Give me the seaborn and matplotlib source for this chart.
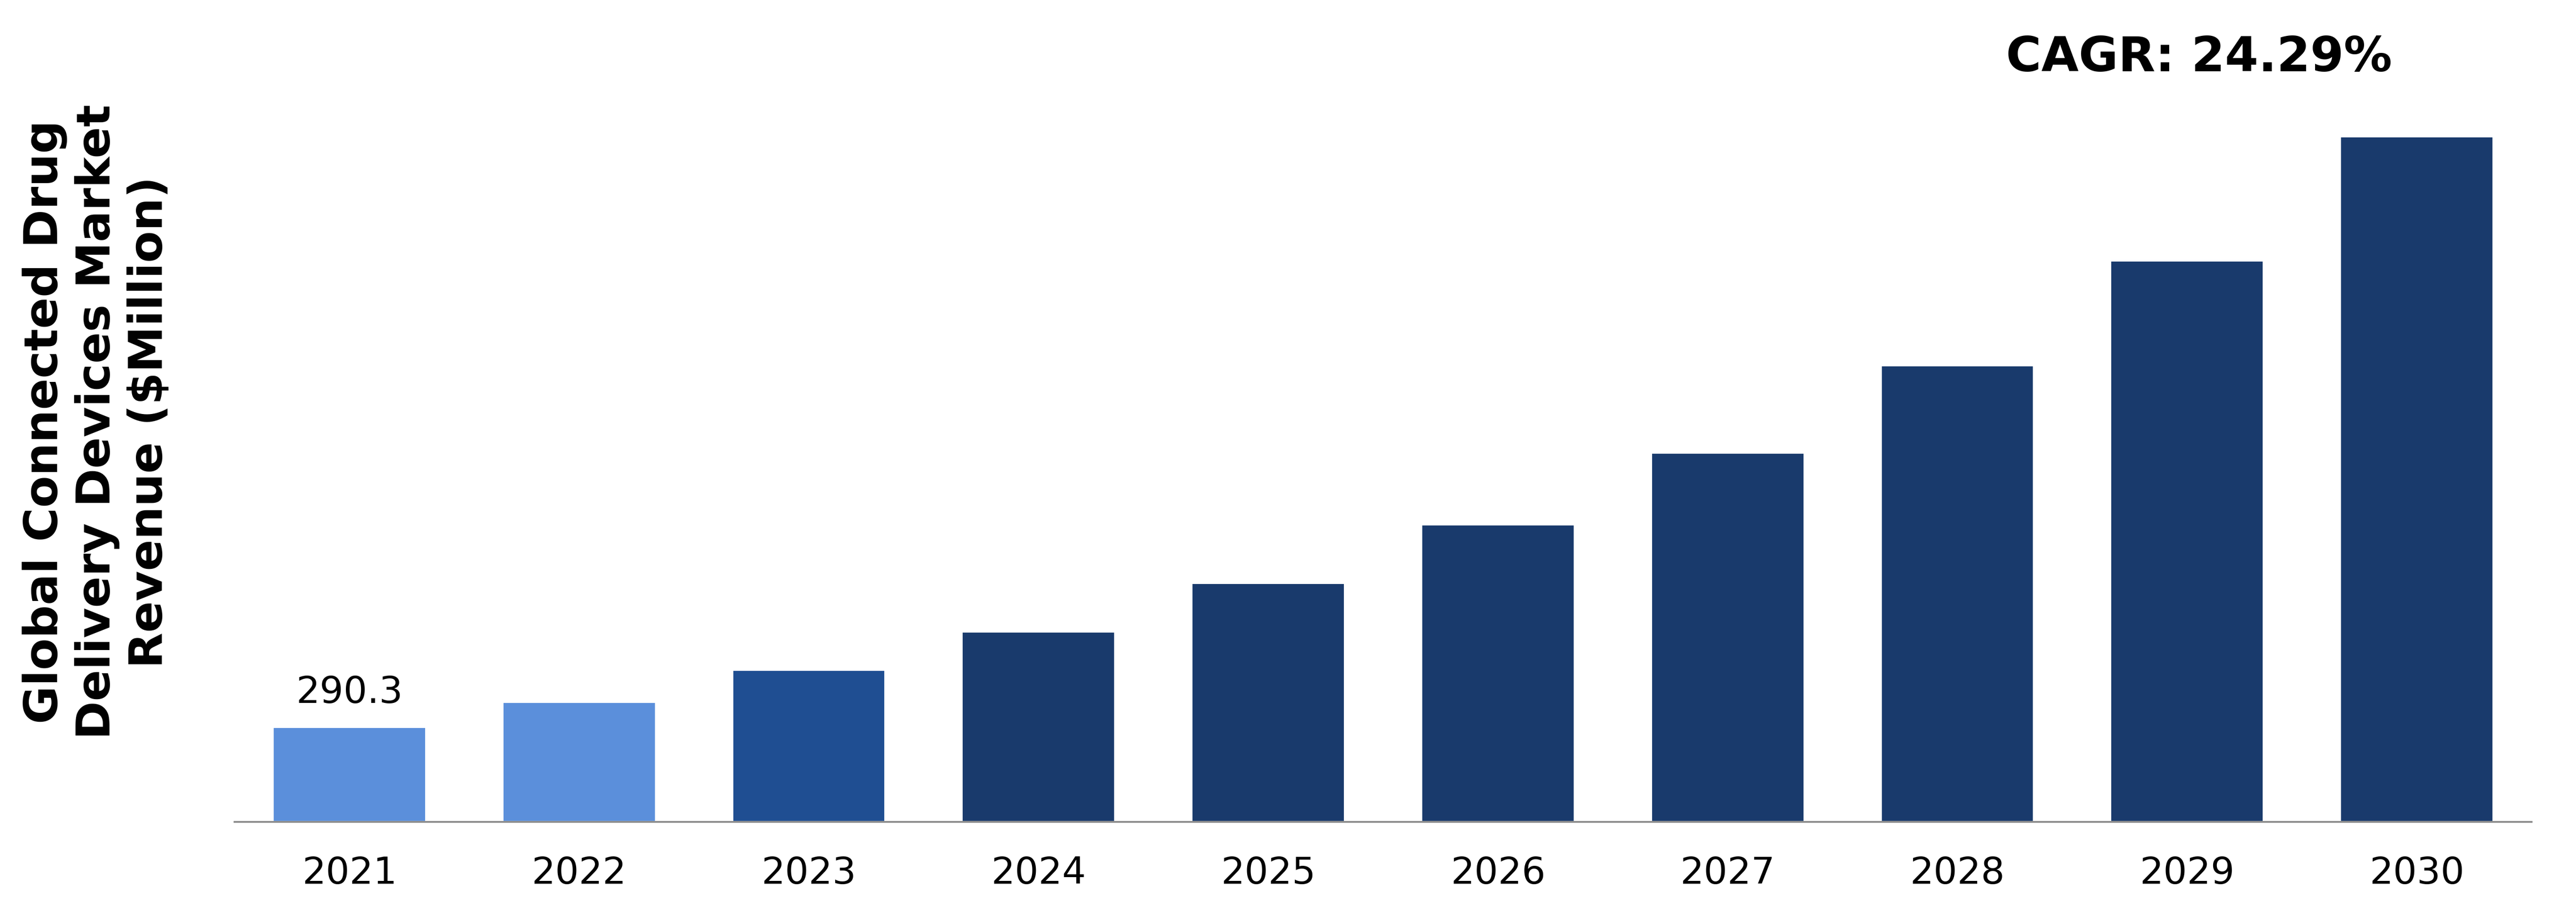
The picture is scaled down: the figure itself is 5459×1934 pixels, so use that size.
import matplotlib
matplotlib.use("Agg")
import matplotlib.pyplot as plt
import seaborn as sns
import pandas as pd

years = ["2021", "2022", "2023", "2024", "2025", "2026", "2027", "2028", "2029", "2030"]
revenue = [290.3, 366.9, 464.8, 582.4, 730.2, 910.1, 1129.2, 1396.3, 1716.9, 2096.3]
bar_colors = ["#5B8FDB", "#5B8FDB", "#1F4E92",
              "#193A6C", "#193A6C", "#193A6C", "#193A6C", "#193A6C", "#193A6C", "#193A6C"]
first_label = "290.3"
cagr_text = "CAGR: 24.29%"
ylabel_text = "Global Connected Drug\nDelivery Devices Market\nRevenue ($Million)"

sns.set_theme(style="white")
plt.rcParams["font.family"] = ["DejaVu Sans"]

df = pd.DataFrame({"year": years, "revenue": revenue})

DPI = 300
fig = plt.figure(figsize=(5459 / DPI, 1934 / DPI), dpi=DPI)
ax = fig.add_axes([497 / 5459, 1 - 1741 / 1934, (5365 - 497) / 5459, (1741 - 97) / 1934])

sns.barplot(data=df, x="year", y="revenue", hue="year", palette=bar_colors,
            legend=False, width=0.667, saturation=1, ax=ax)

ax.set_xlim(-0.5, len(years) - 0.5)
ax.set_ylim(0, 2374)
ax.set_xlabel("")
ax.set_ylabel("")
ax.set_yticks([])
for s in ["top", "right", "left"]:
    ax.spines[s].set_visible(False)
ax.spines["bottom"].set_color("#898989")
ax.spines["bottom"].set_linewidth(0.9)
ax.tick_params(axis="x", length=0, pad=17, labelsize=19, labelcolor="black")

ax.annotate(first_label, xy=(0, revenue[0]), xytext=(0, 8.4), textcoords="offset points",
            ha="center", va="bottom", fontsize=19, color="black")

fig.text(4660 / 5459, 1 - 123 / 1934, cagr_text, ha="center", va="center",
         fontsize=24.5, fontweight="bold", color="black")

fig.text(206 / 5459, 1 - 894 / 1934, ylabel_text, rotation=90, ha="center", va="center",
         multialignment="center", fontsize=23.6, fontweight="bold", color="black",
         linespacing=1.2)

fig.savefig("out.png", dpi=DPI, facecolor="white")
